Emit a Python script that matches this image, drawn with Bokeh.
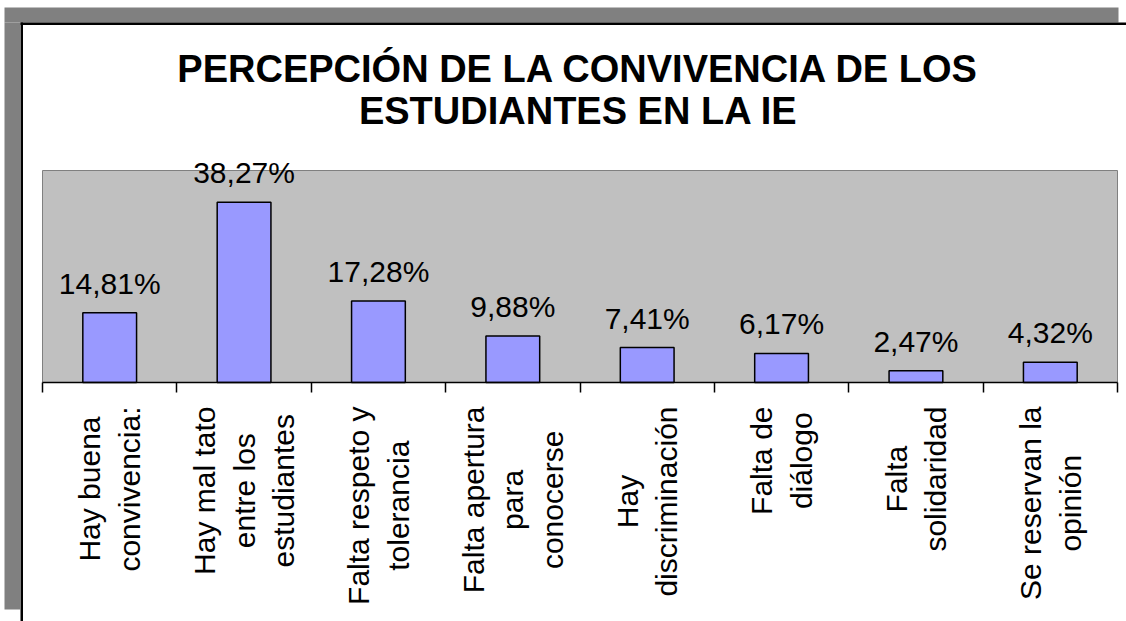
import math
from bokeh.plotting import figure
from bokeh.models import ColumnDataSource, FixedTicker, LabelSet
from bokeh.core.properties import value
from bokeh.embed import file_html
from bokeh.resources import INLINE

# ---- data ----
categories = [
    "Hay buena\nconvivencia:",
    "Hay mal tato\nentre los\nestudiantes",
    "Falta respeto y\ntolerancia",
    "Falta apertura\npara\nconocerse",
    "Hay\ndiscriminación",
    "Falta de\ndiálogo",
    "Falta\nsolidaridad",
    "Se reservan la\nopinión",
]
values = [14.81, 38.27, 17.28, 9.88, 7.41, 6.17, 2.47, 4.32]
value_labels = [f"{v:.2f}%".replace(".", ",") for v in values]
title_lines = ["PERCEPCIÓN DE LA CONVIVENCIA DE LOS", "ESTUDIANTES EN LA IE"]
y_max = 45

# ---- layout (canvas pixels) ----
FONT = value("Liberation Sans")
W, H = 1126, 621
PL, PR, PT, PB = 42, 1117, 170, 382      # plot area in canvas px
n = len(categories)
sx = (PR - PL) / n
sy = (PB - PT) / y_max

def xd(cx):
    return (cx - PL) / sx

def yd(cy):
    return (PB - cy) / sy

p = figure(width=W, height=H, output_backend="svg", toolbar_location=None,
           x_range=(xd(0), xd(W)), y_range=(yd(H), yd(0)),
           min_border=0, min_border_left=0, min_border_right=0,
           min_border_top=0, min_border_bottom=0)
p.background_fill_color = "white"
p.border_fill_color = "white"
p.outline_line_color = None
p.xgrid.visible = False
p.ygrid.visible = False
p.yaxis.visible = False

# chart frame decorations: grey shadow + black border
p.quad(left=[xd(4), xd(4)], right=[xd(1118), xd(19.5)],
       top=[yd(7), yd(22)], bottom=[yd(22), yd(609)],
       fill_color="#808080", line_color=None)
p.quad(left=[xd(20), xd(20)], right=[xd(W), xd(22.5)],
       top=[yd(22), yd(22)], bottom=[yd(24.5), yd(H)],
       fill_color="black", line_color=None)

# plot area
p.quad(left=[0], right=[n], bottom=[0], top=[y_max],
       fill_color="#C0C0C0", line_color="#808080", line_width=1)

xc = [i + 0.5 for i in range(n)]
src = ColumnDataSource(dict(x=xc, top=values, lab=value_labels, cat=categories))

p.vbar(x="x", top="top", bottom=0, width=0.4, source=src,
       fill_color="#9999FF", line_color="black", line_width=1.5)

ax = p.xaxis[0]
ax.fixed_location = 0
ax.bounds = (0, n)
ax.ticker = FixedTicker(ticks=[], minor_ticks=list(range(n + 1)))
ax.major_label_text_font_size = "0px"
ax.major_tick_line_color = None
ax.minor_tick_line_color = "black"
ax.minor_tick_line_width = 1.5
ax.minor_tick_out = 10
ax.minor_tick_in = 0
ax.axis_line_color = "black"
ax.axis_line_width = 1.5

labels = LabelSet(x="x", y="top", text="lab", source=src, y_offset=19,
                  text_align="center", text_baseline="alphabetic",
                  text_font=FONT, text_font_size="30px", text_color="black")
p.add_layout(labels)

# category labels (rotated, lines centred, block hanging from the axis)
try:
    p.text(x="x", y=yd(406), text="cat", source=src, angle=math.pi / 2,
           anchor="center_right", text_align="center",
           text_font=FONT, text_font_size="30px", text_line_height=1.2,
           text_color="black")
except Exception:
    p.text(x="x", y=yd(406), text="cat", source=src, angle=math.pi / 2,
           text_align="right", text_baseline="middle",
           text_font=FONT, text_font_size="30px", text_line_height=1.2,
           text_color="black")

# title
p.text(x=[xd(578), xd(578)], y=[yd(68), yd(110.5)], text=title_lines,
       text_align="center", text_baseline="alphabetic",
       text_font=FONT, text_font_size="38px", text_font_style="bold",
       text_color="black")

open("out.html", "w").write(file_html(p, INLINE))
